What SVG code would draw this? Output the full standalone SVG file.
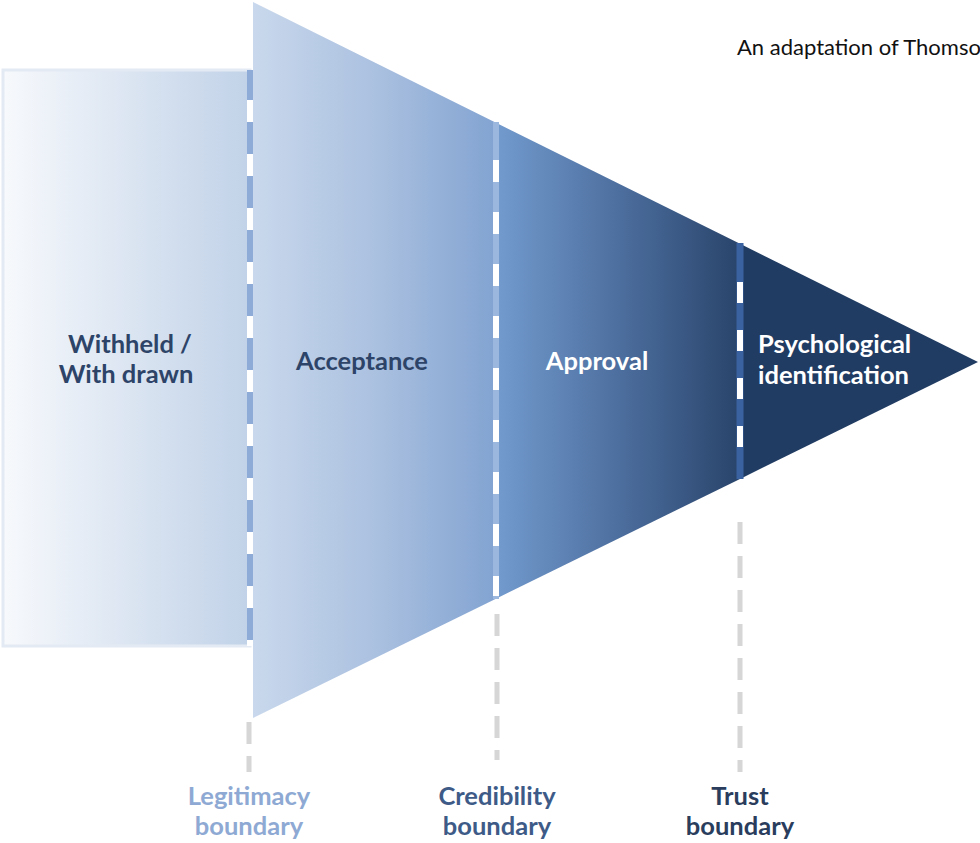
<svg xmlns="http://www.w3.org/2000/svg" width="980" height="843" viewBox="0 0 980 843">
  <defs>
    <linearGradient id="gRect" x1="0" y1="0" x2="1" y2="0">
      <stop offset="0" stop-color="#f7f9fc"/>
      <stop offset="1" stop-color="#c1d2e8"/>
    </linearGradient>
    <linearGradient id="gAcc" gradientUnits="userSpaceOnUse" x1="253" y1="0" x2="496" y2="0">
      <stop offset="0" stop-color="#c9d8ec"/>
      <stop offset="0.5" stop-color="#abc1e0"/>
      <stop offset="1" stop-color="#82a3d1"/>
    </linearGradient>
    <linearGradient id="gApp" gradientUnits="userSpaceOnUse" x1="496" y1="0" x2="740" y2="0">
      <stop offset="0" stop-color="#739bce"/>
      <stop offset="0.5" stop-color="#4d6f9f"/>
      <stop offset="1" stop-color="#29446b"/>
    </linearGradient>
    <style>
      .lbl { font-family: Lato, "Open Sans", "Liberation Sans", sans-serif; font-weight: 700; font-size: 25.5px; text-anchor: middle; }
      .in { font-family: Lato, "Open Sans", "Liberation Sans", sans-serif; font-weight: 700; font-size: 25.5px; }
      .dark { fill: #2d4468; }
      .white { fill: #ffffff; }
      .grey { stroke: #d6d6d6; stroke-width: 5; stroke-dasharray: 22 12; fill: none; }
      .wdash { stroke: #ffffff; stroke-width: 6; fill: none; }
    </style>
  </defs>
  <rect width="980" height="843" fill="#ffffff"/>

  <g id="title">
    <text x="737" y="55" font-family="Lato, 'Open Sans', 'Liberation Sans', sans-serif" font-size="22" fill="#111111">An adaptation of Thomso</text>
  </g>

  <g id="withheld">
    <rect x="3" y="70" width="247" height="576" fill="url(#gRect)" stroke="#e4eaf3" stroke-width="3"/>
    <text class="in dark" x="130" y="353" text-anchor="middle">Withheld /</text>
    <text class="in dark" x="126" y="383" text-anchor="middle">With drawn</text>
  </g>

  <g id="acceptance">
    <polygon points="253,2 496,122.7 496,598.7 253,718" fill="url(#gAcc)"/>
    <text class="in dark" x="362" y="370" text-anchor="middle">Acceptance</text>
  </g>

  <g id="approval">
    <polygon points="496,122.7 740,243.8 740,478.9 496,598.7" fill="url(#gApp)"/>
    <text class="in white" x="597" y="370" text-anchor="middle">Approval</text>
  </g>

  <g id="psychological">
    <polygon points="740,243.8 978,362 740,478.9" fill="#213c62"/>
    <text class="in white" x="758" y="353">Psychological</text>
    <text class="in white" x="758" y="384">identification</text>
  </g>

  <g id="connectors">
    <!-- Legitimacy boundary -->
    <line x1="250" y1="70" x2="250" y2="646" stroke="#8eabd7" stroke-width="6"/>
    <line class="wdash" x1="250" y1="100" x2="250" y2="646" stroke-dasharray="22 32"/>
    <line class="grey" x1="249" y1="722" x2="249" y2="772"/>
    <!-- Credibility boundary -->
    <line x1="496" y1="122" x2="496" y2="599" stroke="#9bb7de" stroke-width="6"/>
    <line class="wdash" x1="496" y1="160" x2="496" y2="596" stroke-dasharray="22 30"/>
    <line class="grey" x1="497" y1="614" x2="497" y2="760"/>
    <!-- Trust boundary -->
    <line x1="740" y1="243" x2="740" y2="479" stroke="#3a62a0" stroke-width="7"/>
    <line class="wdash" x1="740" y1="282" x2="740" y2="470" stroke-dasharray="21 27"/>
    <line class="grey" x1="740" y1="522" x2="740" y2="772"/>
  </g>

  <g id="labels">
    <text class="lbl" x="249" y="805" fill="#8ea9d3">Legitimacy</text>
    <text class="lbl" x="249" y="835" fill="#8ea9d3">boundary</text>
    <text class="lbl" x="497" y="805" fill="#3e5b88">Credibility</text>
    <text class="lbl" x="497" y="835" fill="#3e5b88">boundary</text>
    <text class="lbl" x="740" y="805" fill="#2a3d5d">Trust</text>
    <text class="lbl" x="740" y="835" fill="#2a3d5d">boundary</text>
  </g>
</svg>
